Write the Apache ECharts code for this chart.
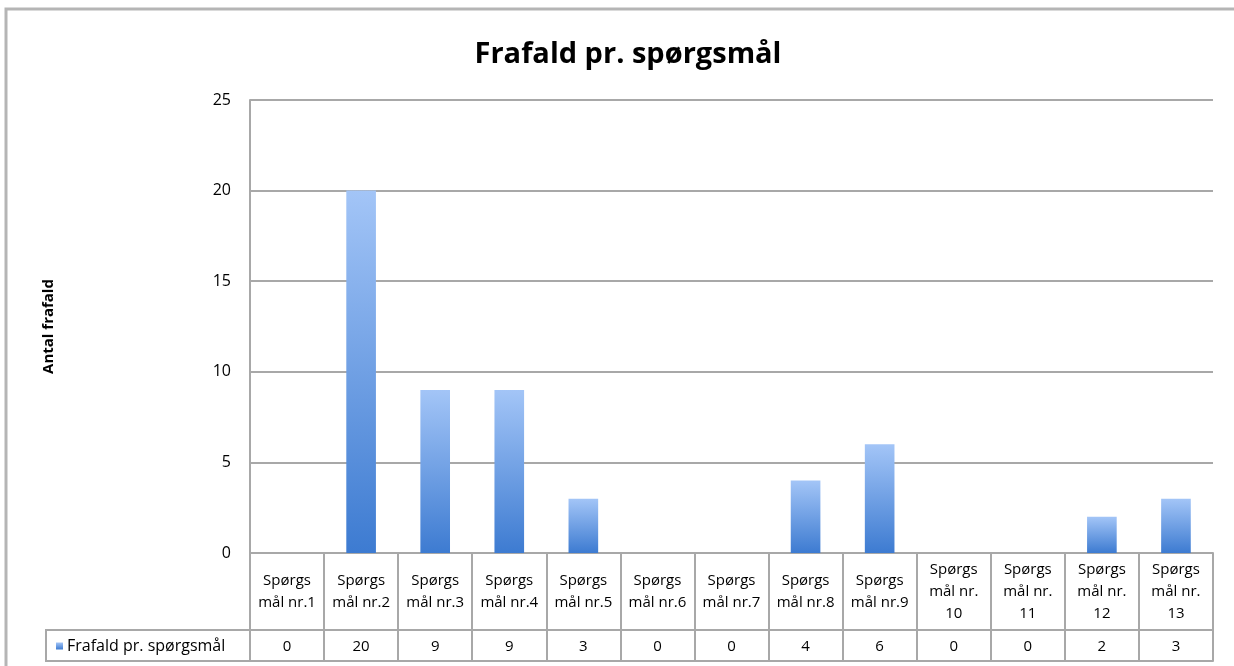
<!DOCTYPE html>
<html>
<head>
<meta charset="utf-8">
<script src="https://cdn.jsdelivr.net/npm/echarts@6/dist/echarts.min.js"></script>
<style>
html,body{margin:0;padding:0;background:#fff;}
#c{width:1234px;height:666px;}
</style>
</head>
<body>
<div id="c"></div>
<script>
const categories = ['Spørgsmål nr.1','Spørgsmål nr.2','Spørgsmål nr.3','Spørgsmål nr.4','Spørgsmål nr.5','Spørgsmål nr.6','Spørgsmål nr.7','Spørgsmål nr.8','Spørgsmål nr.9','Spørgsmål nr. 10','Spørgsmål nr. 11','Spørgsmål nr. 12','Spørgsmål nr. 13'];
const categoryLabels = ['Spørgs\nmål nr.1','Spørgs\nmål nr.2','Spørgs\nmål nr.3','Spørgs\nmål nr.4','Spørgs\nmål nr.5','Spørgs\nmål nr.6','Spørgs\nmål nr.7','Spørgs\nmål nr.8','Spørgs\nmål nr.9','Spørgs\nmål nr.\n10','Spørgs\nmål nr.\n11','Spørgs\nmål nr.\n12','Spørgs\nmål nr.\n13'];
const values = [0, 20, 9, 9, 3, 0, 0, 4, 6, 0, 0, 2, 3];
const seriesName = 'Frafald pr. spørgsmål';
const titleText = 'Frafald pr. spørgsmål';
const yAxisName = 'Antal frafald';

const FONT = '"Open Sans", Lato, sans-serif';
const GRID = '#a8a8a8';

const chart = echarts.init(document.getElementById('c'), null, {renderer: 'canvas'});
chart.setOption({
  animation: false,
  backgroundColor: '#fff',
  textStyle: {fontFamily: FONT},
  title: {
    text: titleText,
    left: 623, top: 35, textAlign: 'center',
    textStyle: {fontFamily: FONT, fontWeight: 'bold', fontSize: 29, color: '#000'}
  },
  legend: {
    data: [seriesName],
    left: 56, top: 638,
    icon: 'rect', itemWidth: 7, itemHeight: 7, itemGap: 5,
    padding: 0,
    textStyle: {fontFamily: FONT, fontSize: 16, color: '#000', padding: [0,0,0,-1]}
  },
  grid: {left: 250, right: 21, top: 100, bottom: 113, containLabel: false, outerBoundsMode: 'none'},
  xAxis: [
    {
      type: 'category', data: categories, position: 'bottom',
      axisLine: {show: true, lineStyle: {color: GRID, width: 2}},
      axisTick: {show: true, length: 108, interval: 0, alignWithLabel: false, lineStyle: {color: GRID, width: 2}},
      axisLabel: {
        interval: 0, margin: 39, verticalAlign: 'middle', align: 'center',
        fontFamily: FONT, fontSize: 15, lineHeight: 22, color: '#000',
        formatter: (v, i) => categoryLabels[i]
      },
      splitLine: {show: false}
    },
    {
      type: 'category', data: values.map(String), position: 'bottom', offset: 77,
      axisLine: {show: true, lineStyle: {color: GRID, width: 2}},
      axisTick: {show: false},
      axisLabel: {interval: 0, margin: 17, verticalAlign: 'middle', fontFamily: FONT, fontSize: 15, color: '#000'},
      splitLine: {show: false}
    },
    {
      type: 'category', data: categories, position: 'bottom', offset: 108,
      axisLine: {show: true, lineStyle: {color: GRID, width: 2}},
      axisTick: {show: false}, axisLabel: {show: false}, splitLine: {show: false}
    }
  ],
  yAxis: {
    type: 'value', min: 0, max: 25, interval: 5,
    name: yAxisName, nameLocation: 'middle', nameRotate: 90, nameGap: 194,
    nameTextStyle: {fontFamily: FONT, fontWeight: 'bold', fontSize: 15, color: '#000'},
    axisLine: {show: true, lineStyle: {color: GRID, width: 2}},
    axisTick: {show: false},
    axisLabel: {margin: 19, fontFamily: FONT, fontSize: 16, color: '#000'},
    splitLine: {show: true, lineStyle: {color: GRID, width: 2}}
  },
  series: [{
    name: seriesName,
    type: 'bar',
    xAxisIndex: 0,
    data: values,
    barWidth: '40%',
    itemStyle: {
      color: new echarts.graphic.LinearGradient(0, 0, 0, 1, [
        {offset: 0, color: '#a3c5f7'},
        {offset: 1, color: '#3d7bd1'}
      ])
    }
  }],
  graphic: [
    {type: 'polyline', shape: {points: [[6, 666], [6, 9], [1234, 9]]}, style: {stroke: '#b5b5b5', lineWidth: 3, fill: null}, silent: true},
    {type: 'rect', shape: {x: 46, y: 630, width: 204, height: 31}, style: {stroke: GRID, lineWidth: 2, fill: null}, silent: true, z: 10}
  ]
});
</script>
</body>
</html>
